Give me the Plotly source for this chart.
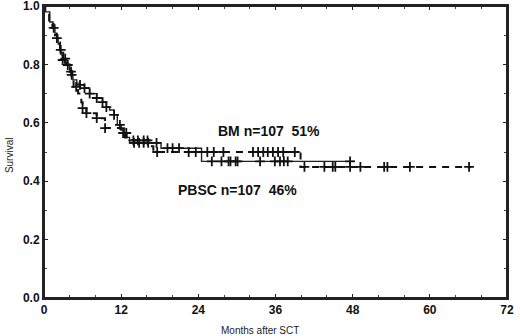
import plotly.graph_objects as go

# ---- data ----
# PBSC: solid curve  (step times in months, survival after step)
pbsc_t = [0, 0.15, 0.9, 1.4, 1.7, 2.0, 2.2, 2.5, 2.8, 2.9, 3.2, 3.7, 4.0, 4.3, 4.5, 5.1, 5.6,
          6.3, 7.1, 8.2, 9.1, 9.7, 10.2, 10.9, 11.4, 12.0, 12.5, 12.9, 13.3, 18.2, 24.5, 48.3]
pbsc_s = [1.0, 0.98, 0.945, 0.935, 0.907, 0.89, 0.87, 0.842, 0.83, 0.815, 0.805, 0.798, 0.78,
          0.764, 0.747, 0.736, 0.73, 0.719, 0.70, 0.685, 0.671, 0.654, 0.644, 0.627, 0.593,
          0.582, 0.565, 0.55, 0.531, 0.513, 0.468, 0.468]
pbsc_cens = [2.0, 2.9, 3.7, 4.3, 5.6, 6.3, 7.1, 8.2, 9.1, 9.7, 10.9, 11.8, 12.8, 14.0, 14.8,
             15.5, 16.2, 17.5, 19.2, 20.0, 21.0, 26.1, 27.6, 28.7, 29.0, 29.8, 30.1, 33.6,
             35.9, 36.7, 37.3, 37.9, 47.6]

# BM: dashed curve
bm_t = [0, 0.2, 0.8, 1.3, 1.7, 2.1, 2.5, 3.0, 3.5, 4.0, 4.4, 4.6, 5.3, 5.8, 6.0, 6.6, 8.2,
        9.5, 12.0, 12.6, 13.6, 16.4, 17.0, 39.9, 66.4]
bm_s = [1.0, 0.98, 0.95, 0.925, 0.90, 0.875, 0.85, 0.82, 0.80, 0.775, 0.75, 0.723, 0.70,
        0.67, 0.65, 0.633, 0.616, 0.582, 0.565, 0.55, 0.54, 0.52, 0.50, 0.449, 0.449]
bm_cens = [1.5, 2.6, 3.3, 4.2, 5.0, 6.0, 6.6, 8.2, 9.5, 12.3, 13.9, 14.6, 15.5, 16.1, 17.6,
           22.5, 23.6, 25.4, 26.4, 27.9, 32.5, 33.3, 34.1, 34.8, 35.6, 36.4, 37.2, 39.0,
           40.5, 43.6, 44.9, 45.3, 47.6, 49.2, 52.9, 53.4, 56.9, 66.1]

x_ticks = [0, 12, 24, 36, 48, 60, 72]
y_ticks = [0.0, 0.2, 0.4, 0.6, 0.8, 1.0]
labels = {"BM": "BM n=107\u00a0\u00a051%", "PBSC": "PBSC n=107\u00a0\u00a046%"}


def surv_at(t_list, s_list, t):
    v = s_list[0]
    for tt, ss in zip(t_list, s_list):
        if tt <= t:
            v = ss
    return v


fig = go.Figure()
fig.add_trace(go.Scatter(x=pbsc_t, y=pbsc_s, mode="lines", line_shape="hv",
                         line=dict(color="#222", width=1.4), showlegend=False))
fig.add_trace(go.Scatter(x=bm_t, y=bm_s, mode="lines", line_shape="hv",
                         line=dict(color="#111", width=2, dash="7px,6px"), showlegend=False))
fig.add_trace(go.Scatter(x=pbsc_cens, y=[surv_at(pbsc_t, pbsc_s, t) for t in pbsc_cens],
                         mode="markers", showlegend=False,
                         marker=dict(symbol="cross-thin", size=7, line=dict(color="#111", width=1.8))))
fig.add_trace(go.Scatter(x=bm_cens, y=[surv_at(bm_t, bm_s, t) for t in bm_cens],
                         mode="markers", showlegend=False,
                         marker=dict(symbol="cross-thin", size=7, line=dict(color="#111", width=1.8))))

tickfont = dict(family="Liberation Sans, Arial", size=12, color="#111", weight="bold")
fig.update_layout(
    width=520, height=343,
    margin=dict(l=44, r=9, t=6, b=38),
    paper_bgcolor="white", plot_bgcolor="white",
    xaxis=dict(range=[0, 72], tickvals=x_ticks, ticktext=[str(v) for v in x_ticks],
               ticklabeloverflow="allow",
               showgrid=False, zeroline=False, showline=True, linecolor="#222", linewidth=2,
               mirror="ticks", ticks="inside", ticklen=4, tickcolor="#222", tickwidth=1,
               minor=dict(dtick=4, ticks="inside", ticklen=3, tickcolor="#444"),
               tickfont=tickfont),
    yaxis=dict(range=[0, 1.0], tickvals=y_ticks, ticktext=[f"{v:.1f}" for v in y_ticks],
               ticklabeloverflow="allow",
               showgrid=False, zeroline=False, showline=True, linecolor="#222", linewidth=2,
               mirror="ticks", ticks="inside", ticklen=4, tickcolor="#222", tickwidth=1,
               minor=dict(dtick=0.1, ticks="inside", ticklen=3, tickcolor="#444"),
               tickfont=tickfont),
    shapes=[dict(type="rect", xref="paper", yref="paper", x0=0, x1=1, y0=0, y1=1,
                 line=dict(color="#222", width=2), layer="above")],
    annotations=[
        dict(text="Survival", xref="paper", yref="paper", x=-0.073, y=0.49, textangle=-90,
             xanchor="center", yanchor="middle",
             showarrow=False, font=dict(family="Liberation Sans, Arial", size=10, color="#222")),
        dict(text="Months after SCT", xref="paper", yref="paper", x=0.467, y=-0.113,
             xanchor="center", yanchor="middle",
             showarrow=False, font=dict(family="Liberation Sans, Arial", size=10, color="#222")),
        dict(text=labels["BM"], xref="x", yref="y", x=26.8, y=0.572, xanchor="left",
             showarrow=False, font=dict(family="Liberation Sans, Arial", size=14, color="#111", weight="bold")),
        dict(text=labels["PBSC"], xref="x", yref="y", x=20.5, y=0.37, xanchor="left",
             showarrow=False, font=dict(family="Liberation Sans, Arial", size=14, color="#111", weight="bold")),
    ],
)
fig.write_html(
    "out.html", config={"displayModeBar": False},
    post_script=("document.body.style.margin='0';document.body.style.overflow='hidden';"
                 "var d=document.getElementById('{plot_id}');d.style.position='fixed';"
                 "d.style.top='-7px';d.style.left='0px';"))
